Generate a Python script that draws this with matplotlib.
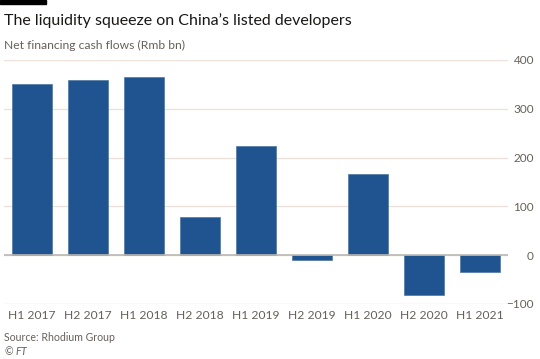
import matplotlib.pyplot as plt
import matplotlib.patches as mpatches

# data
periods = ["H1 2017", "H2 2017", "H1 2018", "H2 2018", "H1 2019",
           "H2 2019", "H1 2020", "H2 2020", "H1 2021"]
cash_flows = [350, 360, 365, 79, 223, -10, 166, -82, -35]
y_ticks = [-100, 0, 100, 200, 300, 400]

plt.rcParams["font.family"] = ["Lato", "DejaVu Sans"]
plt.rcParams["mathtext.fontset"] = "custom"
plt.rcParams["mathtext.it"] = "Lato:italic"

bar_col = "#1f5490"
grid_col = "#ebe3dc"
text_col = "#66605c"

fig = plt.figure(figsize=(5.4, 3.59), dpi=100)
fig.patch.set_facecolor("white")
ax = fig.add_axes([4 / 540, 1 - 304 / 359, 504 / 540, 244 / 359])

x = list(range(len(periods)))
ax.bar(x, cash_flows, width=0.73, color=bar_col, edgecolor="#4f76a0",
       linewidth=0.5, zorder=3)
ax.axhline(0, color="#bcb7b2", linewidth=1.2, zorder=4)

ax.set_xlim(-0.5, len(periods) - 0.5)
ax.set_ylim(-100, 400)
ax.set_yticks(y_ticks)
ax.yaxis.tick_right()
ax.grid(axis="y", color=grid_col, linewidth=1, zorder=0)
ax.set_axisbelow(True)
for s in ax.spines.values():
    s.set_visible(False)

ax.tick_params(axis="y", length=0, pad=18.7, labelsize=8.5, labelcolor=text_col)
for lab in ax.get_yticklabels():
    lab.set_horizontalalignment("right")
ax.set_xticks(x)
ax.set_xticklabels(periods)
ax.tick_params(axis="x", length=0, pad=4, labelsize=8.7, labelcolor=text_col)

# header / footer
fig.patches.append(mpatches.Rectangle((0, 1 - 4 / 359), 46 / 540, 4 / 359,
                                      transform=fig.transFigure,
                                      color="black"))
fig.text(4 / 540, 1 - 25 / 359, "The liquidity squeeze on China\u2019s listed developers",
         fontsize=11.5, color="#1a1817", va="baseline")
fig.text(4 / 540, 1 - 49 / 359, "Net financing cash flows (Rmb bn)",
         fontsize=8.7, color=text_col, va="baseline")
fig.text(4 / 540, 1 - 341 / 359, "Source: Rhodium Group",
         fontsize=7.6, color=text_col, va="baseline")
fig.text(4 / 540, 1 - 355 / 359, "\u00a9 $\\it{FT}$",
         fontsize=7.6, color=text_col, va="baseline")

fig.savefig("out.png", dpi=100)
